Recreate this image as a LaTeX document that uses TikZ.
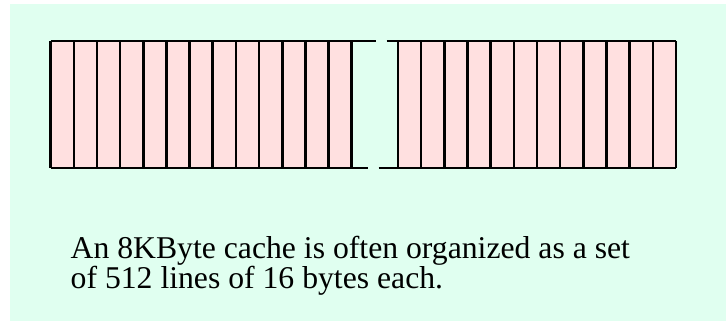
\documentclass[tikz,border=0pt]{standalone}
\usepackage{fontspec}
\setmainfont{Liberation Serif}
\definecolor{bgmint}{RGB}{224,255,240}
\definecolor{cellpink}{RGB}{255,224,224}
\tikzset{
  cellline/.style={line width=2.6pt, black},
  caption/.style={anchor=base west, inner sep=0pt, font=\fontsize{31.7}{30}\selectfont, align=left}
}
\begin{document}
\begin{tikzpicture}[x=1pt,y=-1pt]
\useasboundingbox (0,0) rectangle (726,321);
\fill[bgmint] (10,4) rectangle (726,321);
% left block
\fill[cellpink] (50.7,41) rectangle (351,168);
\foreach \i in {0,...,13} {
  \draw[cellline] ({50.7+\i*23.15},41) -- ({50.7+\i*23.15},168);
}
\draw[cellline] (50.7,41) -- (376,41);
\draw[cellline] (50.7,168) -- (368,168);
% right block
\fill[cellpink] (398,41) rectangle (676,168);
\foreach \i in {0,...,12} {
  \draw[cellline] ({398+\i*23.1667},41) -- ({398+\i*23.1667},168);
}
\draw[cellline] (386.7,41) -- (676,41);
\draw[cellline] (378.7,168) -- (676,168);
\node[caption] (cap) at (70.5,288) {An 8KByte cache is often organized as a set\\of 512 lines of 16 bytes each.};
\end{tikzpicture}
\end{document}
